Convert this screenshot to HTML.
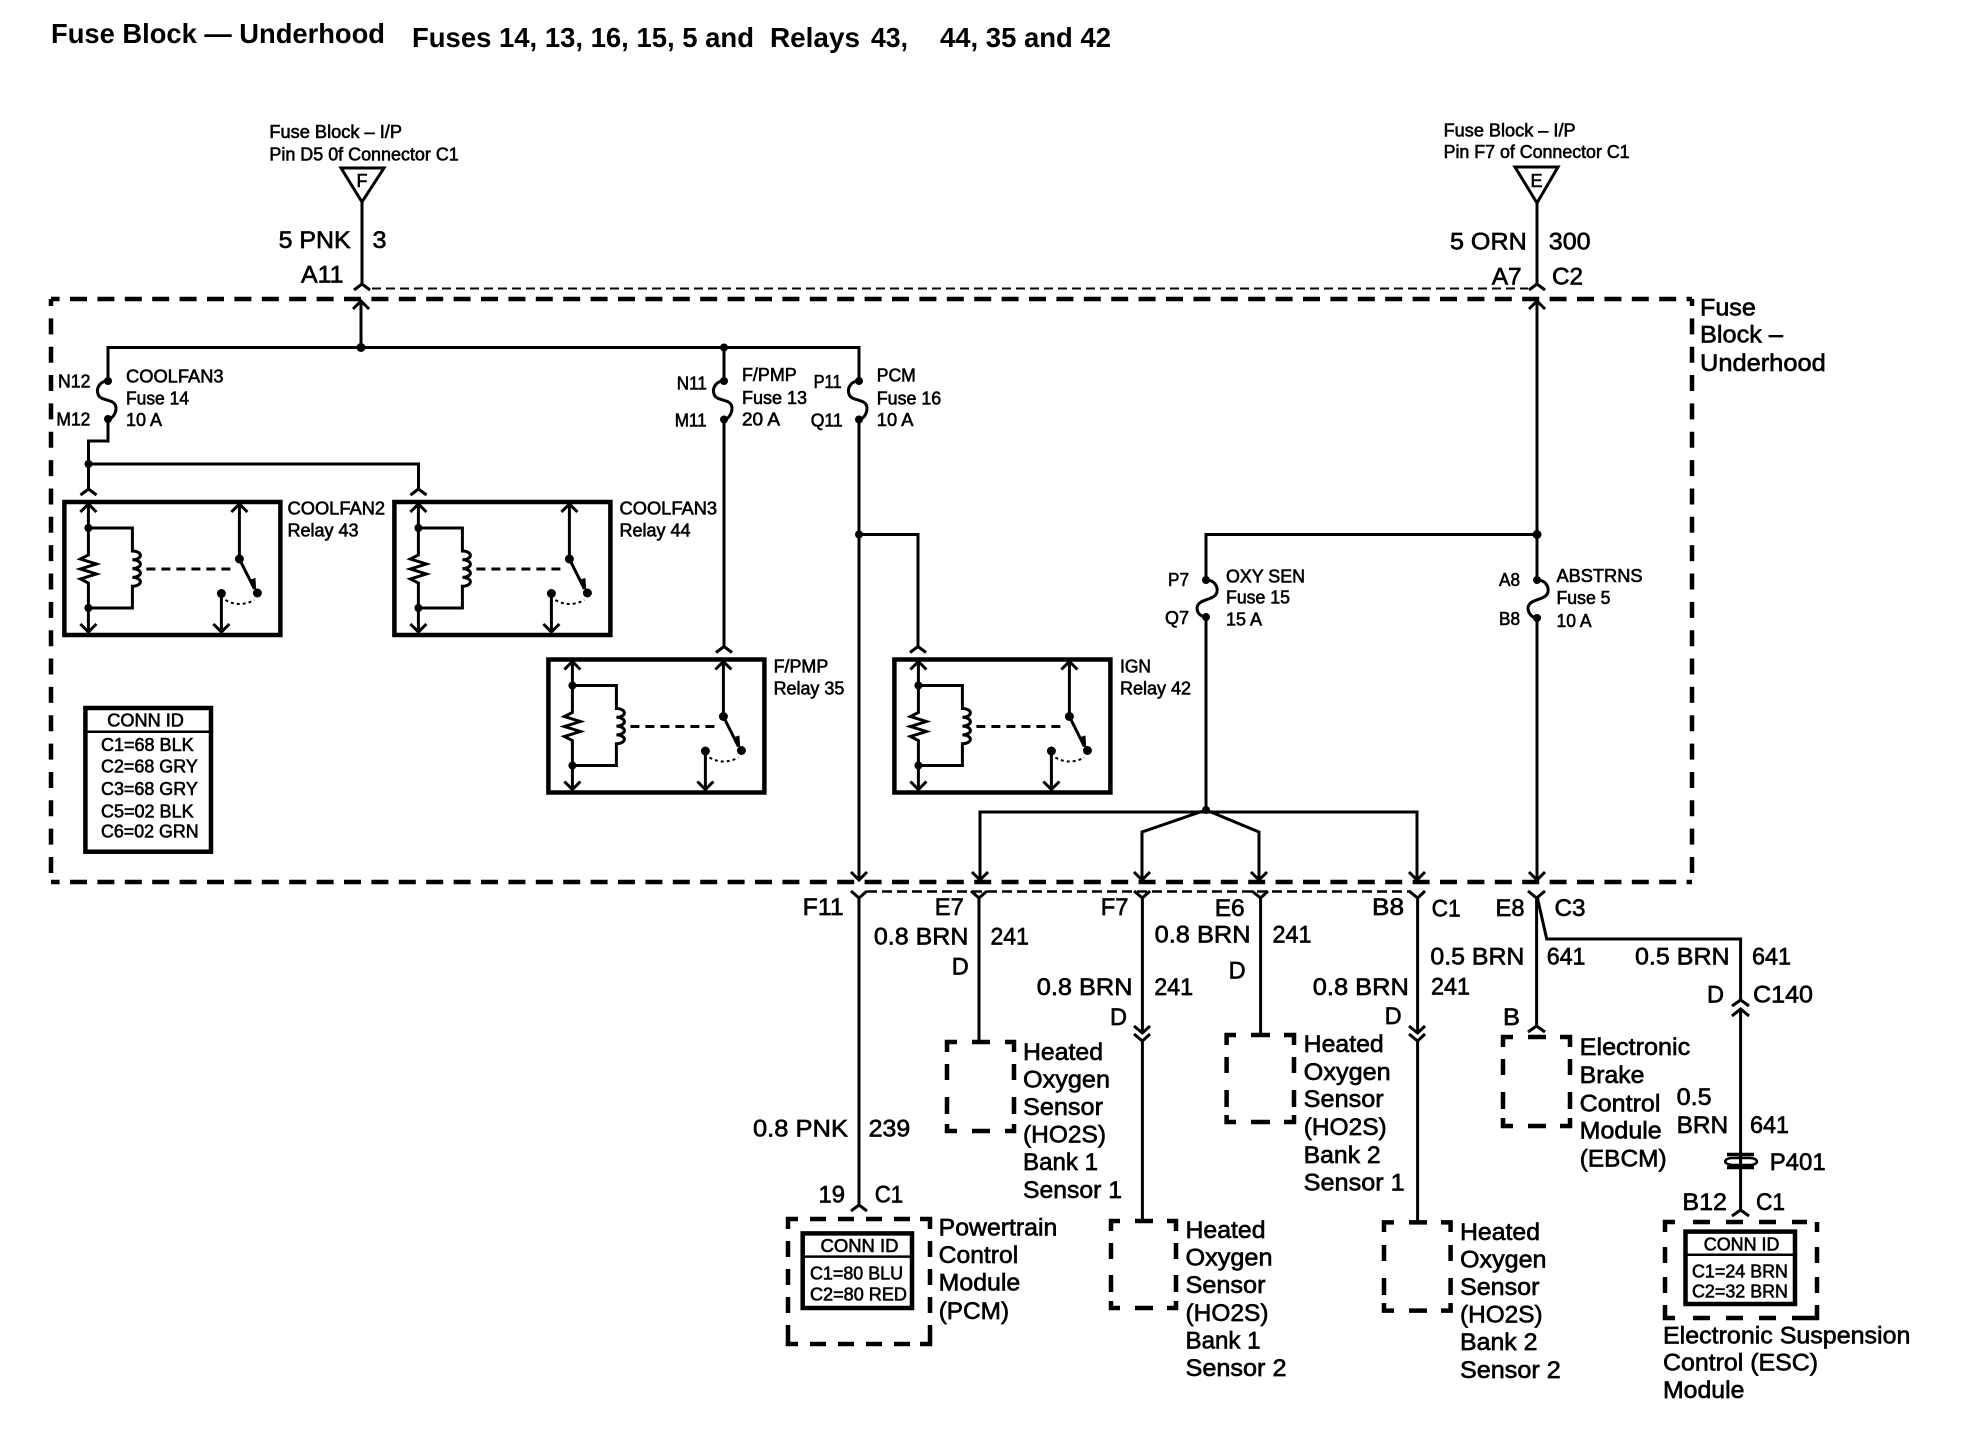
<!DOCTYPE html>
<html><head><meta charset="utf-8"><title>Fuse Block - Underhood</title>
<style>
html,body{margin:0;padding:0;background:#fff}
svg{display:block}
text{font-family:"Liberation Sans",sans-serif;fill:#000}
.t{font-size:28px;font-weight:bold}
.l{font-size:24.5px;stroke:#000;stroke-width:.65px}
.s{font-size:18px;stroke:#000;stroke-width:.6px}
.w{fill:none;stroke:#000;stroke-width:3}
.d{fill:none;stroke:#000;stroke-width:4.5}
.b{fill:none;stroke:#000;stroke-width:4.5}
</style></head><body>
<svg width="1988" height="1456" viewBox="0 0 1988 1456" xmlns="http://www.w3.org/2000/svg">
<defs>
<g id="relay">
<rect class="b" x="0" y="0" width="216" height="133"/>
<path class="w" d="M24 3V53L16 57L32 62L16 67L32 72L16 77L24 81V130M16 10L24 2L32 10M16 122L24 130L32 122"/>
<path class="w" d="M24 26H68V49a8 4.4 0 0 1 0 8.8a8 4.4 0 0 1 0 8.8a8 4.4 0 0 1 0 8.8a8 4.4 0 0 1 0 8.8V106H24"/>
<circle cx="24" cy="26" r="4"/><circle cx="24" cy="106" r="4"/>
<path class="w" d="M82 67H172" stroke-dasharray="9 6"/>
<path class="w" d="M175 2V57L190 87M167 10L175 2L183 10M157 91V130M149 122L157 130L165 122"/>
<path d="M184 78L191 76L192 90Z"/>
<circle cx="175" cy="57" r="4.5"/><circle cx="193" cy="91" r="4.5"/><circle cx="157" cy="91.5" r="4.5"/>
<path d="M161 98Q175 106 190 98" fill="none" stroke="#000" stroke-width="2" stroke-dasharray="3 3"/>
</g>
</defs>

<!-- main dashed block -->
<path class="d" stroke-dasharray="17 10.4" stroke-dashoffset="8.4" d="M51 299H1692"/>
<path class="d" stroke-dasharray="17 10.4" stroke-dashoffset="8.4" d="M51 882H1692"/>
<path class="d" stroke-dasharray="16 12.35" stroke-dashoffset="9" d="M51 299V882"/>
<path class="d" stroke-dasharray="16 12.35" stroke-dashoffset="9" d="M1692 299V882"/>
<path fill="none" stroke="#000" stroke-width="2" stroke-dasharray="9 5" d="M372 288.5H1528"/>
<path fill="none" stroke="#000" stroke-width="2.5" stroke-dasharray="10 5" d="M867 891.5H1410"/>

<!-- top feeds -->
<path class="w" d="M341 168H384L362 202ZM362 202V284M354 290L362 284L370 290"/>
<path class="w" d="M1515 167H1558L1537 203ZM1537 203V284M1529 290L1537 284L1545 290"/>
<path class="w" d="M361 301V347.5M353 309L361 301L369 309"/>
<path class="w" d="M108 381V347.5H859V381M724 347.5V381"/>
<circle cx="361" cy="347.5" r="4.5"/><circle cx="724" cy="347.5" r="4"/>

<!-- fuse 14 -->
<path class="w" d="M108 381C100 381 96 388 98 394C100 402 116 398 116 408C116 414 112 419 108 419"/>
<circle cx="108" cy="381" r="4"/><circle cx="108" cy="419" r="4"/>
<path class="w" d="M108 419V441H88.5V489M88.5 464H418.5V489M80.5 495L88.5 489L96.5 495M410.5 495L418.5 489L426.5 495"/>
<circle cx="88.5" cy="464" r="4"/>

<!-- fuse 13 -->
<path class="w" d="M724 381C716 381 712 388 714 394C716 402 732 398 732 408C732 414 728 419.5 724 419.5"/>
<circle cx="724" cy="381" r="4"/><circle cx="724" cy="419.5" r="4"/>
<path class="w" d="M724 419.5V646.5M716 652.5L724 646.5L732 652.5"/>
<!-- fuse 16 -->
<path class="w" d="M859 381C851 381 847 388 849 394C851 402 867 398 867 408C867 414 863 419.5 859 419.5"/>
<circle cx="859" cy="381" r="4"/><circle cx="859" cy="419.5" r="4"/>
<path class="w" d="M859 419.5V880M851 872L859 880L867 872M859 534.5H918V646.5M910 652.5L918 646.5L926 652.5"/>
<circle cx="859" cy="534.5" r="4"/>

<!-- fuse 15 / fuse 5 -->
<path class="w" d="M1537 301V580M1529 309L1537 301L1545 309M1537 534.5H1206V580"/>
<circle cx="1537" cy="534.5" r="4.5"/>
<path class="w" d="M1206 580C1214 580 1218 586 1217 592C1215 601 1198 598 1197 608C1197 613 1201 617 1206 617"/>
<circle cx="1206" cy="580" r="4"/><circle cx="1206" cy="617" r="4"/>
<path class="w" d="M1537 580C1545 580 1549 586 1548 592C1546 601 1529 598 1528 608C1528 613 1532 618 1537 618"/>
<circle cx="1537" cy="580" r="4"/><circle cx="1537" cy="618" r="4"/>
<path class="w" d="M1537 618V880M1529 872L1537 880L1545 872"/>
<path class="w" d="M1206 617V810M980 880V812H1417V880M972 872L980 880L988 872M1409 872L1417 880L1425 872"/>
<path class="w" d="M1142 880V832L1206 810L1259 832V880M1134 872L1142 880L1150 872M1251 872L1259 880L1267 872"/>
<circle cx="1206" cy="810" r="4"/>

<!-- relays -->
<use href="#relay" x="64.4" y="502"/>
<use href="#relay" x="394.4" y="502"/>
<use href="#relay" x="548.4" y="659.5"/>
<use href="#relay" x="894.4" y="659.5"/>

<!-- conn id left -->
<rect class="b" x="85.4" y="708" width="125.6" height="143.7"/>
<path fill="none" stroke="#000" stroke-width="2.5" d="M85 731.7H211"/>

<!-- lower wires -->
<path class="w" d="M859 898V1205M851 891L859 898L867 891M851 1211L859 1205L867 1211"/>
<path class="w" d="M979 898V1042M971 891L979 898L987 891"/>
<path class="w" d="M1142.4 898V1033M1134 891L1142.4 898L1150 891M1134 1026L1142.4 1033L1150 1026M1134 1034L1142.4 1041L1150 1034M1142.4 1041V1221"/>
<path class="w" d="M1260.6 898V1035M1252 891L1260.6 898L1268 891"/>
<path class="w" d="M1417.6 898V1033M1409 891L1417.6 898L1425 891M1409 1026L1417.6 1033L1425 1026M1409 1034L1417.6 1041L1425 1034M1417.6 1041V1222"/>
<path class="w" d="M1536.6 898V1026M1528 891L1536.6 898L1545 891M1528 1032L1536.6 1026L1545 1032"/>
<path class="w" d="M1537 896L1546.7 939H1740.6V1000M1732 1006L1740.6 1000L1749 1006M1740.6 1009V1210M1732 1016L1740.6 1009L1749 1016M1732 1216L1740.6 1210L1749 1216"/>
<!-- P401 -->
<path fill="none" stroke="#000" stroke-width="3.5" d="M1727 1154.5H1754M1727 1167.5H1754"/>
<path fill="none" stroke="#000" stroke-width="2.5" d="M1732 1158C1724 1158 1722 1164 1732 1165H1751C1760 1164 1758 1158 1750 1158Z"/>

<!-- dashed modules -->
<path class="d" d="M947 1052V1042H957M972 1042H990M1005 1042H1014V1052M947 1064V1080M947 1097V1114M947 1124V1131H957M972 1131H990M1005 1131H1014V1124M1014 1064V1080M1014 1097V1114"/>
<path class="d" d="M1111 1231V1221H1120M1135 1221H1153M1167 1221H1176V1231M1111 1243V1259M1111 1275V1292M1111 1301V1308H1120M1135 1308H1153M1167 1308H1176V1301M1176 1243V1259M1176 1275V1292"/>
<path class="d" d="M1226.6 1045V1035H1236M1251 1035H1270M1284 1035H1294V1045M1226.6 1057V1073M1226.6 1090V1107M1226.6 1115V1122H1236M1251 1122H1270M1284 1122H1294V1115M1294 1057V1073M1294 1090V1107"/>
<path class="d" d="M1384 1232V1222.4H1394M1409 1222.4H1427M1441 1222.4H1450.6V1232M1384 1245V1261M1384 1278V1295M1384 1303V1310.6H1394M1409 1310.6H1427M1441 1310.6H1450.6V1303M1450.6 1245V1261M1450.6 1278V1295"/>
<path class="d" d="M1503 1047V1037H1513M1528 1037H1546M1560 1037H1570V1047M1503 1059V1075M1503 1092V1109M1503 1118V1126H1513M1528 1126H1546M1560 1126H1570V1118M1570 1059V1075M1570 1092V1109"/>
<path class="d" d="M788 1229V1219H798M810 1219H826M838 1219H854M866 1219H882M894 1219H910M920 1219H930V1229M788 1241V1257M788 1269V1285M788 1297V1313M788 1325V1344H798M810 1344H826M838 1344H854M866 1344H882M894 1344H910M920 1344H930V1325M930 1241V1257M930 1269V1285M930 1297V1313"/>
<rect class="b" x="802.7" y="1233.4" width="109.3" height="74.6"/>
<path fill="none" stroke="#000" stroke-width="2.5" d="M803 1256.6H912"/>
<path class="d" d="M1665 1232V1222H1675M1693 1222H1710M1726 1222H1743M1759 1222H1776M1792 1222H1807M1817 1222V1232M1665 1247V1263M1665 1277V1293M1665 1305V1318H1675M1693 1318H1710M1726 1318H1743M1759 1318H1776M1792 1318H1817V1305M1817 1247V1263M1817 1277V1293"/>
<rect class="b" x="1685.5" y="1231.6" width="109.5" height="72.4"/>
<path fill="none" stroke="#000" stroke-width="2.5" d="M1686 1254.7H1795"/>

<!-- titles -->
<text class="t" x="51" y="43" textLength="334" lengthAdjust="spacingAndGlyphs">Fuse Block — Underhood</text>
<text class="t" x="412" y="47" textLength="342" lengthAdjust="spacingAndGlyphs">Fuses 14, 13, 16, 15, 5 and</text>
<text class="t" x="770" y="47" textLength="90" lengthAdjust="spacingAndGlyphs">Relays</text>
<text class="t" x="871" y="47" textLength="37" lengthAdjust="spacingAndGlyphs">43,</text>
<text class="t" x="940" y="47" textLength="171" lengthAdjust="spacingAndGlyphs">44, 35 and 42</text>

<!-- top labels -->
<text class="s" x="269.4" y="138" textLength="132.6" lengthAdjust="spacingAndGlyphs">Fuse Block – I/P</text>
<text class="s" x="269.4" y="160.7" textLength="189.4" lengthAdjust="spacingAndGlyphs">Pin D5 0f Connector C1</text>
<text class="s" x="362" y="187" text-anchor="middle">F</text>
<text class="l" x="278.6" y="248" textLength="72" lengthAdjust="spacingAndGlyphs">5 PNK</text>
<text class="l" x="372.5" y="248" textLength="14" lengthAdjust="spacingAndGlyphs">3</text>
<text class="l" x="301" y="282.7" textLength="42.5" lengthAdjust="spacingAndGlyphs">A11</text>
<text class="s" x="1443.6" y="136.4" textLength="132" lengthAdjust="spacingAndGlyphs">Fuse Block – I/P</text>
<text class="s" x="1443.6" y="158" textLength="186" lengthAdjust="spacingAndGlyphs">Pin F7 of Connector C1</text>
<text class="s" x="1536.5" y="187" text-anchor="middle">E</text>
<text class="l" x="1450" y="249.4" textLength="76.7" lengthAdjust="spacingAndGlyphs">5 ORN</text>
<text class="l" x="1548.8" y="249.4" textLength="41.8" lengthAdjust="spacingAndGlyphs">300</text>
<text class="l" x="1491.7" y="284.7" textLength="30" lengthAdjust="spacingAndGlyphs">A7</text>
<text class="l" x="1552" y="284.7" textLength="31" lengthAdjust="spacingAndGlyphs">C2</text>
<text class="l" x="1700" y="315.3" textLength="55.8" lengthAdjust="spacingAndGlyphs">Fuse</text>
<text class="l" x="1700" y="342.5" textLength="83" lengthAdjust="spacingAndGlyphs">Block –</text>
<text class="l" x="1700" y="371" textLength="125.7" lengthAdjust="spacingAndGlyphs">Underhood</text>

<!-- fuse labels -->
<text class="s" x="58" y="387.7" textLength="32.4" lengthAdjust="spacingAndGlyphs">N12</text>
<text class="s" x="56.4" y="425.7" textLength="34" lengthAdjust="spacingAndGlyphs">M12</text>
<text class="s" x="126" y="382.3" textLength="97.6" lengthAdjust="spacingAndGlyphs">COOLFAN3</text>
<text class="s" x="126" y="404.3" textLength="63" lengthAdjust="spacingAndGlyphs">Fuse 14</text>
<text class="s" x="126" y="426" textLength="36" lengthAdjust="spacingAndGlyphs">10 A</text>
<text class="s" x="676.8" y="389.3" textLength="30" lengthAdjust="spacingAndGlyphs">N11</text>
<text class="s" x="674.7" y="426.4" textLength="32" lengthAdjust="spacingAndGlyphs">M11</text>
<text class="s" x="742" y="381" textLength="54.7" lengthAdjust="spacingAndGlyphs">F/PMP</text>
<text class="s" x="742" y="404" textLength="65" lengthAdjust="spacingAndGlyphs">Fuse 13</text>
<text class="s" x="742" y="425.7" textLength="38" lengthAdjust="spacingAndGlyphs">20 A</text>
<text class="s" x="813.6" y="388" textLength="28" lengthAdjust="spacingAndGlyphs">P11</text>
<text class="s" x="810.7" y="426.4" textLength="32" lengthAdjust="spacingAndGlyphs">Q11</text>
<text class="s" x="876.8" y="381.5" textLength="39" lengthAdjust="spacingAndGlyphs">PCM</text>
<text class="s" x="876.8" y="404.5" textLength="64.4" lengthAdjust="spacingAndGlyphs">Fuse 16</text>
<text class="s" x="876.8" y="426" textLength="36.6" lengthAdjust="spacingAndGlyphs">10 A</text>
<text class="s" x="1168" y="586" textLength="21" lengthAdjust="spacingAndGlyphs">P7</text>
<text class="s" x="1165" y="623.8" textLength="24" lengthAdjust="spacingAndGlyphs">Q7</text>
<text class="s" x="1226" y="582.4" textLength="79" lengthAdjust="spacingAndGlyphs">OXY SEN</text>
<text class="s" x="1226" y="603.4" textLength="64" lengthAdjust="spacingAndGlyphs">Fuse 15</text>
<text class="s" x="1226" y="625.7" textLength="36" lengthAdjust="spacingAndGlyphs">15 A</text>
<text class="s" x="1499" y="585.8" textLength="21" lengthAdjust="spacingAndGlyphs">A8</text>
<text class="s" x="1499" y="625" textLength="21" lengthAdjust="spacingAndGlyphs">B8</text>
<text class="s" x="1556.5" y="582" textLength="86" lengthAdjust="spacingAndGlyphs">ABSTRNS</text>
<text class="s" x="1556.5" y="604" textLength="54" lengthAdjust="spacingAndGlyphs">Fuse 5</text>
<text class="s" x="1556.5" y="627" textLength="35" lengthAdjust="spacingAndGlyphs">10 A</text>

<!-- relay labels -->
<text class="s" x="287.5" y="514.3" textLength="97.6" lengthAdjust="spacingAndGlyphs">COOLFAN2</text>
<text class="s" x="287.5" y="536.7" textLength="71" lengthAdjust="spacingAndGlyphs">Relay 43</text>
<text class="s" x="619.5" y="514.3" textLength="97.6" lengthAdjust="spacingAndGlyphs">COOLFAN3</text>
<text class="s" x="619.5" y="536.7" textLength="71" lengthAdjust="spacingAndGlyphs">Relay 44</text>
<text class="s" x="773.6" y="672.4" textLength="54.7" lengthAdjust="spacingAndGlyphs">F/PMP</text>
<text class="s" x="773.6" y="694.6" textLength="70.7" lengthAdjust="spacingAndGlyphs">Relay 35</text>
<text class="s" x="1120" y="672.4" textLength="31" lengthAdjust="spacingAndGlyphs">IGN</text>
<text class="s" x="1120" y="694.6" textLength="71" lengthAdjust="spacingAndGlyphs">Relay 42</text>

<!-- conn id -->
<text class="s" x="107.3" y="726.7" textLength="76.6" lengthAdjust="spacingAndGlyphs">CONN ID</text>
<text class="s" x="101" y="751" textLength="92.6" lengthAdjust="spacingAndGlyphs">C1=68 BLK</text>
<text class="s" x="101" y="772.7" textLength="96.8" lengthAdjust="spacingAndGlyphs">C2=68 GRY</text>
<text class="s" x="101" y="795" textLength="96.8" lengthAdjust="spacingAndGlyphs">C3=68 GRY</text>
<text class="s" x="101" y="817.3" textLength="92.6" lengthAdjust="spacingAndGlyphs">C5=02 BLK</text>
<text class="s" x="101" y="837.3" textLength="97.6" lengthAdjust="spacingAndGlyphs">C6=02 GRN</text>

<!-- lower labels -->
<text class="l" x="802.7" y="915" textLength="41" lengthAdjust="spacingAndGlyphs">F11</text>
<text class="l" x="934.8" y="915" textLength="29" lengthAdjust="spacingAndGlyphs">E7</text>
<text class="l" x="873.9" y="944.3" textLength="94.5" lengthAdjust="spacingAndGlyphs">0.8 BRN</text>
<text class="l" x="990.5" y="944.3" textLength="38.4" lengthAdjust="spacingAndGlyphs">241</text>
<text class="l" x="951.8" y="974.4" textLength="17" lengthAdjust="spacingAndGlyphs">D</text>
<text class="l" x="1100.8" y="915" textLength="27.7" lengthAdjust="spacingAndGlyphs">F7</text>
<text class="l" x="1036.8" y="995" textLength="95.7" lengthAdjust="spacingAndGlyphs">0.8 BRN</text>
<text class="l" x="1154.2" y="995" textLength="39" lengthAdjust="spacingAndGlyphs">241</text>
<text class="l" x="1110" y="1025" textLength="17" lengthAdjust="spacingAndGlyphs">D</text>
<text class="l" x="1214.7" y="916" textLength="30" lengthAdjust="spacingAndGlyphs">E6</text>
<text class="l" x="1154.6" y="942.5" textLength="96" lengthAdjust="spacingAndGlyphs">0.8 BRN</text>
<text class="l" x="1272.5" y="942.5" textLength="39" lengthAdjust="spacingAndGlyphs">241</text>
<text class="l" x="1228.6" y="978.5" textLength="17" lengthAdjust="spacingAndGlyphs">D</text>
<text class="l" x="1312.8" y="995" textLength="96" lengthAdjust="spacingAndGlyphs">0.8 BRN</text>
<text class="l" x="1431" y="994.6" textLength="39" lengthAdjust="spacingAndGlyphs">241</text>
<text class="l" x="1384.6" y="1024" textLength="17" lengthAdjust="spacingAndGlyphs">D</text>
<text class="l" x="1372" y="915" textLength="32" lengthAdjust="spacingAndGlyphs">B8</text>
<text class="l" x="1431.6" y="916.7" textLength="29" lengthAdjust="spacingAndGlyphs">C1</text>
<text class="l" x="1495.5" y="916" textLength="29" lengthAdjust="spacingAndGlyphs">E8</text>
<text class="l" x="1554.5" y="916" textLength="31" lengthAdjust="spacingAndGlyphs">C3</text>
<text class="l" x="1430.4" y="964.5" textLength="94" lengthAdjust="spacingAndGlyphs">0.5 BRN</text>
<text class="l" x="1546.7" y="964.5" textLength="38.8" lengthAdjust="spacingAndGlyphs">641</text>
<text class="l" x="1635" y="964.5" textLength="94.6" lengthAdjust="spacingAndGlyphs">0.5 BRN</text>
<text class="l" x="1752" y="964.5" textLength="39" lengthAdjust="spacingAndGlyphs">641</text>
<text class="l" x="1707" y="1002.3" textLength="17" lengthAdjust="spacingAndGlyphs">D</text>
<text class="l" x="1753" y="1002.3" textLength="60" lengthAdjust="spacingAndGlyphs">C140</text>
<text class="l" x="1503" y="1025" textLength="17" lengthAdjust="spacingAndGlyphs">B</text>
<text class="l" x="1676.6" y="1104.8" textLength="35" lengthAdjust="spacingAndGlyphs">0.5</text>
<text class="l" x="1676.6" y="1132.8" textLength="51.6" lengthAdjust="spacingAndGlyphs">BRN</text>
<text class="l" x="1750" y="1132.8" textLength="39" lengthAdjust="spacingAndGlyphs">641</text>
<text class="l" x="1769.7" y="1170" textLength="56" lengthAdjust="spacingAndGlyphs">P401</text>
<text class="l" x="1682.4" y="1210" textLength="44.6" lengthAdjust="spacingAndGlyphs">B12</text>
<text class="l" x="1756" y="1210" textLength="29" lengthAdjust="spacingAndGlyphs">C1</text>
<text class="l" x="753" y="1136.4" textLength="95" lengthAdjust="spacingAndGlyphs">0.8 PNK</text>
<text class="l" x="868.7" y="1136.4" textLength="41.5" lengthAdjust="spacingAndGlyphs">239</text>
<text class="l" x="818.5" y="1202.6" textLength="26.5" lengthAdjust="spacingAndGlyphs">19</text>
<text class="l" x="874.7" y="1202.6" textLength="28.5" lengthAdjust="spacingAndGlyphs">C1</text>

<!-- HO2S B1S1 -->
<text class="l" x="1023" y="1060" textLength="80" lengthAdjust="spacingAndGlyphs">Heated</text>
<text class="l" x="1023" y="1087.6" textLength="87" lengthAdjust="spacingAndGlyphs">Oxygen</text>
<text class="l" x="1023" y="1115" textLength="80" lengthAdjust="spacingAndGlyphs">Sensor</text>
<text class="l" x="1023" y="1142.7" textLength="83" lengthAdjust="spacingAndGlyphs">(HO2S)</text>
<text class="l" x="1023" y="1170" textLength="75" lengthAdjust="spacingAndGlyphs">Bank 1</text>
<text class="l" x="1023" y="1197.8" textLength="99" lengthAdjust="spacingAndGlyphs">Sensor 1</text>
<!-- HO2S B2S1 -->
<text class="l" x="1303.7" y="1052" textLength="80" lengthAdjust="spacingAndGlyphs">Heated</text>
<text class="l" x="1303.7" y="1080" textLength="87" lengthAdjust="spacingAndGlyphs">Oxygen</text>
<text class="l" x="1303.7" y="1107" textLength="80" lengthAdjust="spacingAndGlyphs">Sensor</text>
<text class="l" x="1303.7" y="1135" textLength="83" lengthAdjust="spacingAndGlyphs">(HO2S)</text>
<text class="l" x="1303.7" y="1163" textLength="77" lengthAdjust="spacingAndGlyphs">Bank 2</text>
<text class="l" x="1303.7" y="1190.4" textLength="101" lengthAdjust="spacingAndGlyphs">Sensor 1</text>
<!-- HO2S B1S2 -->
<text class="l" x="1185.5" y="1238" textLength="80" lengthAdjust="spacingAndGlyphs">Heated</text>
<text class="l" x="1185.5" y="1265.7" textLength="87" lengthAdjust="spacingAndGlyphs">Oxygen</text>
<text class="l" x="1185.5" y="1293" textLength="80" lengthAdjust="spacingAndGlyphs">Sensor</text>
<text class="l" x="1185.5" y="1321" textLength="83" lengthAdjust="spacingAndGlyphs">(HO2S)</text>
<text class="l" x="1185.5" y="1348.4" textLength="75" lengthAdjust="spacingAndGlyphs">Bank 1</text>
<text class="l" x="1185.5" y="1376" textLength="101" lengthAdjust="spacingAndGlyphs">Sensor 2</text>
<!-- HO2S B2S2 -->
<text class="l" x="1460" y="1240" textLength="80" lengthAdjust="spacingAndGlyphs">Heated</text>
<text class="l" x="1460" y="1267.6" textLength="86.5" lengthAdjust="spacingAndGlyphs">Oxygen</text>
<text class="l" x="1460" y="1295" textLength="79.5" lengthAdjust="spacingAndGlyphs">Sensor</text>
<text class="l" x="1460" y="1322.7" textLength="82.6" lengthAdjust="spacingAndGlyphs">(HO2S)</text>
<text class="l" x="1460" y="1350" textLength="77.5" lengthAdjust="spacingAndGlyphs">Bank 2</text>
<text class="l" x="1460" y="1377.8" textLength="100.8" lengthAdjust="spacingAndGlyphs">Sensor 2</text>
<!-- EBCM -->
<text class="l" x="1579.7" y="1055" textLength="110.5" lengthAdjust="spacingAndGlyphs">Electronic</text>
<text class="l" x="1579.7" y="1082.8" textLength="64.8" lengthAdjust="spacingAndGlyphs">Brake</text>
<text class="l" x="1579.7" y="1111.4" textLength="80.7" lengthAdjust="spacingAndGlyphs">Control</text>
<text class="l" x="1579.7" y="1138.3" textLength="82" lengthAdjust="spacingAndGlyphs">Module</text>
<text class="l" x="1579.7" y="1166.5" textLength="87" lengthAdjust="spacingAndGlyphs">(EBCM)</text>
<!-- PCM -->
<text class="l" x="938.7" y="1235.6" textLength="118.6" lengthAdjust="spacingAndGlyphs">Powertrain</text>
<text class="l" x="938.7" y="1263" textLength="79.5" lengthAdjust="spacingAndGlyphs">Control</text>
<text class="l" x="938.7" y="1290.7" textLength="81.5" lengthAdjust="spacingAndGlyphs">Module</text>
<text class="l" x="938.7" y="1319" textLength="70.4" lengthAdjust="spacingAndGlyphs">(PCM)</text>
<text class="s" x="820.5" y="1252" textLength="78" lengthAdjust="spacingAndGlyphs">CONN ID</text>
<text class="s" x="810" y="1279.7" textLength="93" lengthAdjust="spacingAndGlyphs">C1=80 BLU</text>
<text class="s" x="810" y="1300.6" textLength="97" lengthAdjust="spacingAndGlyphs">C2=80 RED</text>
<!-- ESC -->
<text class="s" x="1703.8" y="1250.3" textLength="75.6" lengthAdjust="spacingAndGlyphs">CONN ID</text>
<text class="s" x="1692" y="1277.5" textLength="96" lengthAdjust="spacingAndGlyphs">C1=24 BRN</text>
<text class="s" x="1692" y="1297.7" textLength="96" lengthAdjust="spacingAndGlyphs">C2=32 BRN</text>
<text class="l" x="1663" y="1343.6" textLength="247.4" lengthAdjust="spacingAndGlyphs">Electronic Suspension</text>
<text class="l" x="1663" y="1370.4" textLength="155" lengthAdjust="spacingAndGlyphs">Control (ESC)</text>
<text class="l" x="1663" y="1398" textLength="81.4" lengthAdjust="spacingAndGlyphs">Module</text>
</svg>
</body></html>
